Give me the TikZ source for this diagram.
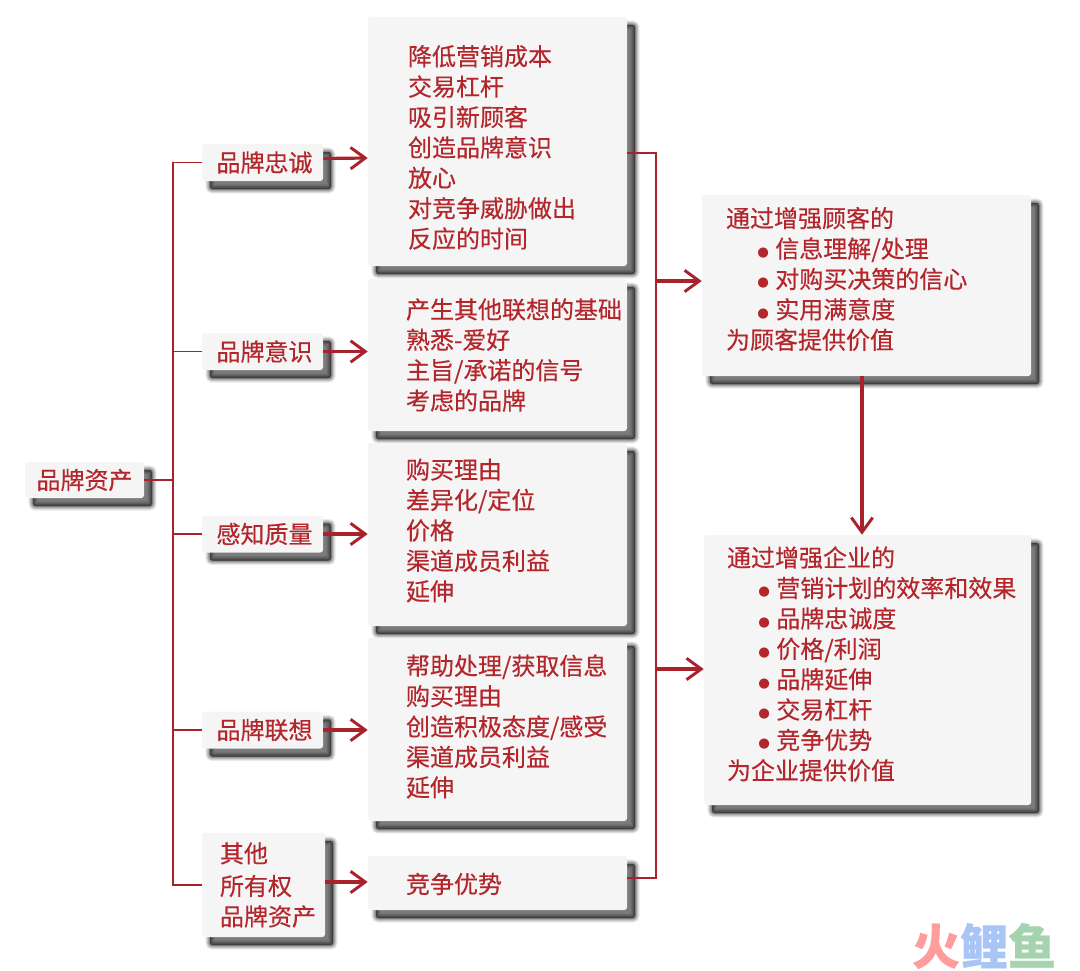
\documentclass[tikz,border=0pt]{standalone}
\usepackage{fontspec}
\newfontfamily\cjk[FakeBold=0.35]{Noto Sans CJK SC}
\newfontfamily\dejavu{DejaVu Sans}
\usetikzlibrary{arrows.meta}
\definecolor{ink}{HTML}{B3262C}
\definecolor{wire}{HTML}{A8212B}
\definecolor{paper}{HTML}{F5F5F5}
\newcommand{\itm}[1]{\hspace*{23.5pt}\makebox[13.5pt][l]{\raisebox{1pt}{\dejavu\fontsize{10}{10}\selectfont ●}}#1}
\newcommand{\botgap}[1]{\par\vspace*{#1}}
\tikzset{
  x=0.75pt,y=-0.75pt,
  softshadow/.style={
    preaction={transform canvas={shift={(6pt,-6pt)}},draw=black,fill=black,opacity=.07,line width=7pt,rounded corners=3pt},
    preaction={transform canvas={shift={(6pt,-6pt)}},draw=black,fill=black,opacity=.10,line width=5.5pt,rounded corners=3pt},
    preaction={transform canvas={shift={(6pt,-6pt)}},draw=black,fill=black,opacity=.13,line width=4pt,rounded corners=3pt},
    preaction={transform canvas={shift={(6pt,-6pt)}},draw=black,fill=black,opacity=.16,line width=2.5pt,rounded corners=3pt},
    preaction={transform canvas={shift={(6pt,-6pt)}},draw=black,fill=black,opacity=.20,line width=1pt,rounded corners=3pt}
  },
  card/.style n args={2}{softshadow,fill=paper,rounded corners=2pt,text=ink,
    font=\cjk\fontsize{18}{22.8}\selectfont,inner ysep=0pt,
    minimum width=#1*0.75pt,minimum height=#2*0.75pt},
  listcard/.style n args={3}{card={#1}{#2},align=left,inner xsep=#3*0.75pt,text width=(#1-2*#3)*0.75pt},
  tag/.style n args={2}{card={#1}{#2},align=center,inner xsep=0pt},
  thinwire/.style={draw=wire,line width=1.3pt},
  arrowline/.style={draw=wire,line width=2.4pt,-{Straight Barb[length=11pt,width=16pt,line width=2.2pt]}}
}
\begin{document}
\begin{tikzpicture}
\useasboundingbox[fill=white] (0,0) rectangle (1080,970);
% left nodes
\node[tag={119}{36}] (root) at (84.5,480) {品牌资产};
\node[tag={121}{37}] (a1) at (262.5,162.5) {\hspace*{3pt}品牌忠诚};
\node[tag={121}{37}] (a2) at (262.5,351.5) {\hspace*{3pt}品牌意识};
\node[tag={121}{37}] (a3) at (262.5,534) {\hspace*{3pt}感知质量};
\node[tag={121}{37}] (a4) at (262.5,730) {\hspace*{3pt}品牌联想};
\node[card={123}{104},align=left,text width=87*0.75pt,inner xsep=0pt] (a5) at (263.5,885) {\fontsize{18}{24.4}\selectfont 其他\\所有权\\品牌资产};
% middle nodes
\node[listcard={259}{249}{40}] (b1) at (497.5,141.5) {降低营销成本\\交易杠杆\\吸引新顾客\\创造品牌意识\\放心\\对竞争威胁做出\\反应的时间\botgap{-9pt}};
\node[listcard={259}{152}{38}] (b2) at (497.5,355) {产生其他联想的基础\\熟悉-爱好\\主旨/承诺的信号\\考虑的品牌};
\node[listcard={259}{183}{38}] (b3) at (497.5,534.5) {购买理由\\差异化/定位\\价格\\渠道成员利益\\延伸\botgap{6pt}};
\node[listcard={259}{183}{38}] (b4) at (497.5,729.5) {帮助处理/获取信息\\购买理由\\创造积极态度/感受\\渠道成员利益\\延伸\botgap{4.5pt}};
\node[listcard={259}{54}{38}] (b5) at (497.5,883) {竞争优势\botgap{-3pt}};
% right nodes
\node[listcard={329}{181}{24}] (r1) at (866.5,285.5) {通过增强顾客的\\\itm{信息理解/处理}\\\itm{对购买决策的信心}\\\itm{实用满意度}\\为顾客提供价值\botgap{9.75pt}};
\node[listcard={327}{270}{23}] (r2) at (867.5,670) {通过增强企业的\\\itm{营销计划的效率和效果}\\\itm{品牌忠诚度}\\\itm{价格/利润}\\\itm{品牌延伸}\\\itm{交易杠杆}\\\itm{竞争优势}\\为企业提供价值\botgap{9pt}};
% watermark
\node[font=\cjk\bfseries\fontsize{36}{36}\selectfont,inner sep=0pt,anchor=center] (wm) at (984,946)
  {\textcolor[HTML]{FF9C9C}{火}\textcolor[HTML]{A9C5F5}{鲤}\textcolor[HTML]{A5D3B0}{鱼}};
% junction coordinates
\coordinate (lt) at (173,480);
\coordinate (rt1) at (656,153);
\coordinate (rt5) at (656,878);
\coordinate (rj1) at (656,281);
\coordinate (rj2) at (656,669);
% left tree
\draw[thinwire] (root.east) -- (lt);
\draw[thinwire] (a1.west) -- (lt |- a1.west) -- (lt |- a5.west) -- (a5.west);
\draw[thinwire] (a2.west) -- (lt |- a2.west);
\draw[thinwire] (a3.west) -- (lt |- a3.west);
\draw[thinwire] (a4.west) -- (lt |- a4.west);
% horizontal arrows
\draw[arrowline] (a1.east) ++(0,-4) -- (b1.west |- 0,158);
\draw[arrowline] (a2.east) -- (b2.west |- a2.east);
\draw[arrowline] (a3.east) -- (b3.west |- a3.east);
\draw[arrowline] (a4.east) -- (b4.west |- a4.east);
\draw[arrowline] (a5.east) ++(0,-3) -- (b5.west |- 0,882);
% right tree
\draw[thinwire] (b1.east |- rt1) -- (rt1) -- (rt5) -- (b5.east |- rt5);
\draw[arrowline] (rj1) -- (r1.west |- rj1);
\draw[arrowline] (rj2) -- (r2.west |- rj2);
\draw[arrowline] (r1.south -| 862,0) -- (r2.north -| 862,0);
\end{tikzpicture}
\end{document}
